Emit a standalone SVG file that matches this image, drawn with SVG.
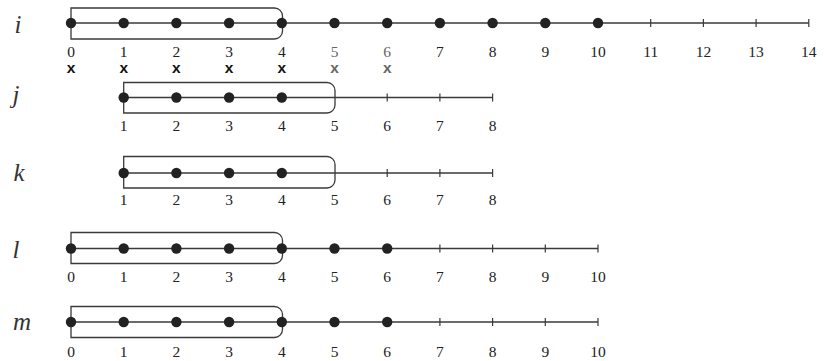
<svg xmlns="http://www.w3.org/2000/svg" width="825" height="361" viewBox="0 0 825 361">
<style>
.bg{fill:#ffffff}
.axis{stroke:#3a3a3a;stroke-width:1.3;fill:none}
.tick{stroke:#3a3a3a;stroke-width:1.2}
.box{stroke:#3a3a3a;stroke-width:1.3;fill:none}
.dot{fill:#222}
.num{font-family:"Liberation Serif",serif;font-size:15.5px;fill:#222;text-anchor:middle}
.var{font-family:"Liberation Serif",serif;font-style:italic;font-size:25px;fill:#333;text-anchor:middle}
.mark{font-family:"Liberation Sans",sans-serif;font-weight:bold;font-size:15.5px;fill:#111;text-anchor:middle}
.light{fill:#666}
</style>
<rect class="bg" x="0" y="0" width="825" height="361"/>

<g id="row-i">
  <text class="var" x="18" y="33">i</text>
  <line class="axis" x1="71" y1="23" x2="808.8" y2="23"/>
  <path class="box" d="M71,8 H274.5 A8,8 0 0 1 282.5,16 V31 A8,8 0 0 1 274.5,39 H71 Z"/>
  <g class="dot">
    <circle cx="71" cy="23" r="5.2"/><circle cx="123.7" cy="23" r="5.2"/><circle cx="176.4" cy="23" r="5.2"/>
    <circle cx="229.1" cy="23" r="5.2"/><circle cx="281.8" cy="23" r="5.2"/><circle cx="334.5" cy="23" r="5.2"/>
    <circle cx="387.2" cy="23" r="5.2"/><circle cx="439.9" cy="23" r="5.2"/><circle cx="492.6" cy="23" r="5.2"/>
    <circle cx="545.3" cy="23" r="5.2"/><circle cx="598" cy="23" r="5.2"/>
  </g>
  <line class="tick" x1="650.7" y1="19" x2="650.7" y2="27"/>
  <line class="tick" x1="703.4" y1="19" x2="703.4" y2="27"/>
  <line class="tick" x1="756.1" y1="19" x2="756.1" y2="27"/>
  <line class="tick" x1="808.8" y1="19" x2="808.8" y2="27"/>
  <text class="num" x="71" y="57">0</text><text class="num" x="123.7" y="57">1</text><text class="num" x="176.4" y="57">2</text>
  <text class="num" x="229.1" y="57">3</text><text class="num" x="281.8" y="57">4</text><text class="num light" x="334.5" y="57">5</text>
  <text class="num light" x="387.2" y="57">6</text><text class="num" x="439.9" y="57">7</text><text class="num" x="492.6" y="57">8</text>
  <text class="num" x="545.3" y="57">9</text><text class="num" x="598" y="57">10</text><text class="num" x="650.7" y="57">11</text>
  <text class="num" x="703.4" y="57">12</text><text class="num" x="756.1" y="57">13</text><text class="num" x="808.8" y="57">14</text>
  <text class="mark" x="71" y="73">x</text><text class="mark" x="123.7" y="73">x</text><text class="mark" x="176.4" y="73">x</text>
  <text class="mark" x="229.1" y="73">x</text><text class="mark" x="281.8" y="73">x</text>
  <text class="mark light" x="334.5" y="73">x</text><text class="mark light" x="387.2" y="73">x</text>
</g>

<g id="row-j">
  <text class="var" x="16" y="103">j</text>
  <line class="axis" x1="123.7" y1="97.5" x2="492.6" y2="97.5"/>
  <path class="box" d="M123.7,82.5 H327 A8,8 0 0 1 335,90.5 V105 A8,8 0 0 1 327,113 H123.7 Z"/>
  <g class="dot">
    <circle cx="123.7" cy="97.5" r="5.2"/><circle cx="176.4" cy="97.5" r="5.2"/>
    <circle cx="229.1" cy="97.5" r="5.2"/><circle cx="281.8" cy="97.5" r="5.2"/>
  </g>
  <line class="tick" x1="387.2" y1="93.5" x2="387.2" y2="101.5"/>
  <line class="tick" x1="439.9" y1="93.5" x2="439.9" y2="101.5"/>
  <line class="tick" x1="492.6" y1="93.5" x2="492.6" y2="101.5"/>
  <text class="num" x="123.7" y="130.5">1</text><text class="num" x="176.4" y="130.5">2</text><text class="num" x="229.1" y="130.5">3</text>
  <text class="num" x="281.8" y="130.5">4</text><text class="num" x="334.5" y="130.5">5</text><text class="num" x="387.2" y="130.5">6</text>
  <text class="num" x="439.9" y="130.5">7</text><text class="num" x="492.6" y="130.5">8</text>
</g>

<g id="row-k">
  <text class="var" x="19" y="181">k</text>
  <line class="axis" x1="123.7" y1="173" x2="492.6" y2="173"/>
  <path class="box" d="M123.7,156.5 H327 A8,8 0 0 1 335,164.5 V180 A8,8 0 0 1 327,188 H123.7 Z"/>
  <g class="dot">
    <circle cx="123.7" cy="173" r="5.2"/><circle cx="176.4" cy="173" r="5.2"/>
    <circle cx="229.1" cy="173" r="5.2"/><circle cx="281.8" cy="173" r="5.2"/>
  </g>
  <line class="tick" x1="387.2" y1="169" x2="387.2" y2="177"/>
  <line class="tick" x1="439.9" y1="169" x2="439.9" y2="177"/>
  <line class="tick" x1="492.6" y1="169" x2="492.6" y2="177"/>
  <text class="num" x="123.7" y="205">1</text><text class="num" x="176.4" y="205">2</text><text class="num" x="229.1" y="205">3</text>
  <text class="num" x="281.8" y="205">4</text><text class="num" x="334.5" y="205">5</text><text class="num" x="387.2" y="205">6</text>
  <text class="num" x="439.9" y="205">7</text><text class="num" x="492.6" y="205">8</text>
</g>

<g id="row-l">
  <text class="var" x="16" y="258">l</text>
  <line class="axis" x1="71" y1="248.5" x2="598" y2="248.5"/>
  <path class="box" d="M71,232.5 H274.5 A8,8 0 0 1 282.5,240.5 V255.5 A8,8 0 0 1 274.5,263.5 H71 Z"/>
  <g class="dot">
    <circle cx="71" cy="248.5" r="5.2"/><circle cx="123.7" cy="248.5" r="5.2"/><circle cx="176.4" cy="248.5" r="5.2"/>
    <circle cx="229.1" cy="248.5" r="5.2"/><circle cx="281.8" cy="248.5" r="5.2"/><circle cx="334.5" cy="248.5" r="5.2"/>
    <circle cx="387.2" cy="248.5" r="5.2"/>
  </g>
  <line class="tick" x1="439.9" y1="244.5" x2="439.9" y2="252.5"/>
  <line class="tick" x1="492.6" y1="244.5" x2="492.6" y2="252.5"/>
  <line class="tick" x1="545.3" y1="244.5" x2="545.3" y2="252.5"/>
  <line class="tick" x1="598" y1="244.5" x2="598" y2="252.5"/>
  <text class="num" x="71" y="281.5">0</text><text class="num" x="123.7" y="281.5">1</text><text class="num" x="176.4" y="281.5">2</text>
  <text class="num" x="229.1" y="281.5">3</text><text class="num" x="281.8" y="281.5">4</text><text class="num" x="334.5" y="281.5">5</text>
  <text class="num" x="387.2" y="281.5">6</text><text class="num" x="439.9" y="281.5">7</text><text class="num" x="492.6" y="281.5">8</text>
  <text class="num" x="545.3" y="281.5">9</text><text class="num" x="598" y="281.5">10</text>
</g>

<g id="row-m">
  <text class="var" x="22" y="330">m</text>
  <line class="axis" x1="71" y1="322" x2="598" y2="322"/>
  <path class="box" d="M71,306.5 H274.5 A8,8 0 0 1 282.5,314.5 V329.5 A8,8 0 0 1 274.5,337.5 H71 Z"/>
  <g class="dot">
    <circle cx="71" cy="322" r="5.2"/><circle cx="123.7" cy="322" r="5.2"/><circle cx="176.4" cy="322" r="5.2"/>
    <circle cx="229.1" cy="322" r="5.2"/><circle cx="281.8" cy="322" r="5.2"/><circle cx="334.5" cy="322" r="5.2"/>
    <circle cx="387.2" cy="322" r="5.2"/>
  </g>
  <line class="tick" x1="439.9" y1="318" x2="439.9" y2="326"/>
  <line class="tick" x1="492.6" y1="318" x2="492.6" y2="326"/>
  <line class="tick" x1="545.3" y1="318" x2="545.3" y2="326"/>
  <line class="tick" x1="598" y1="318" x2="598" y2="326"/>
  <text class="num" x="71" y="357">0</text><text class="num" x="123.7" y="357">1</text><text class="num" x="176.4" y="357">2</text>
  <text class="num" x="229.1" y="357">3</text><text class="num" x="281.8" y="357">4</text><text class="num" x="334.5" y="357">5</text>
  <text class="num" x="387.2" y="357">6</text><text class="num" x="439.9" y="357">7</text><text class="num" x="492.6" y="357">8</text>
  <text class="num" x="545.3" y="357">9</text><text class="num" x="598" y="357">10</text>
</g>
</svg>
